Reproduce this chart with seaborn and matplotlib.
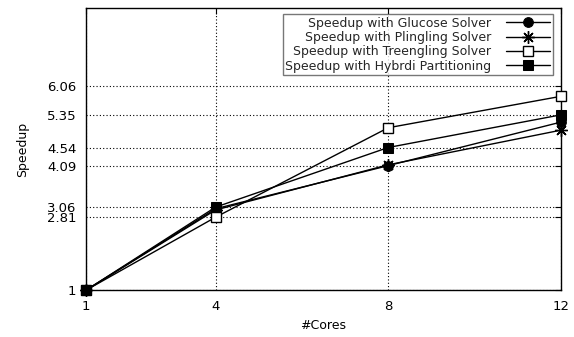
import matplotlib
matplotlib.use("Agg")
import matplotlib.pyplot as plt
import seaborn as sns
import pandas as pd

cores = [1, 4, 8, 12]
glucose = [1.0, 3.02, 4.09, 5.17]
plingling = [1.0, 2.99, 4.11, 4.97]
treengling = [1.0, 2.81, 5.03, 5.81]
hybrid = [1.0, 3.06, 4.54, 5.35]

labels = ["Speedup with Glucose Solver",
          "Speedup with Plingling Solver",
          "Speedup with Treengling Solver",
          "Speedup with Hybrdi Partitioning"]
yticks = [1, 2.81, 3.06, 4.09, 4.54, 5.35, 6.06]
xticks = [1, 4, 8, 12]

sns.set_style("white")
plt.rcParams['font.family'] = ['DejaVu Sans']

fig = plt.figure(figsize=(5.74, 3.37), dpi=100)
ax = fig.add_axes([0.150, 0.139, 0.827, 0.837])

series = [glucose, plingling, treengling, hybrid]
styles = [dict(marker='o', mfc='black', ms=7),
          dict(marker=(8, 2, 0), mfc='black', ms=9, mew=1.0),
          dict(marker='s', mfc='white', ms=7, mew=1.0),
          dict(marker='s', mfc='black', ms=7)]
for vals, lab, st in zip(series, labels, styles):
    df = pd.DataFrame({"cores": cores, "speedup": vals})
    sns.lineplot(data=df, x="cores", y="speedup", ax=ax, color='black',
                 linewidth=1.0, label=lab, mec='black', clip_on=False,
                 zorder=3, **st)

ax.set_xlim(1, 12)
ax.set_ylim(1, 8)
ax.set_xticks(xticks)
ax.set_xticklabels([str(x) for x in xticks])
ax.set_yticks(yticks)
ax.set_yticklabels(["1", "2.81", "3.06", "4.09", "4.54", "5.35", "6.06"])
ax.grid(True, color='black', linestyle=(0, (1, 2)), linewidth=0.8)
ax.tick_params(direction='in', length=4, width=0.8, colors='black',
               labelsize=9.5, top=True, right=True)
ax.tick_params(axis='y', pad=7)
ax.tick_params(axis='x', pad=7)
for s in ax.spines.values():
    s.set_color('black')
    s.set_linewidth(1.0)
ax.set_xlabel("#Cores", fontsize=9, color='black', labelpad=4.5)
ax.set_ylabel("Speedup", fontsize=9, color='black', labelpad=13)

leg = ax.legend(loc='upper right', bbox_to_anchor=(0.983, 0.978),
                markerfirst=False, fontsize=9, frameon=True, fancybox=False,
                edgecolor='#555555', handlelength=3.5, labelspacing=0.1,
                borderpad=0.2, handletextpad=1.2, borderaxespad=0.0)
leg.get_frame().set_linewidth(1.0)
for t in leg.get_texts():
    t.set_ha('right')
leg._legend_box.align = "right"

fig.savefig("out.png", dpi=100)
